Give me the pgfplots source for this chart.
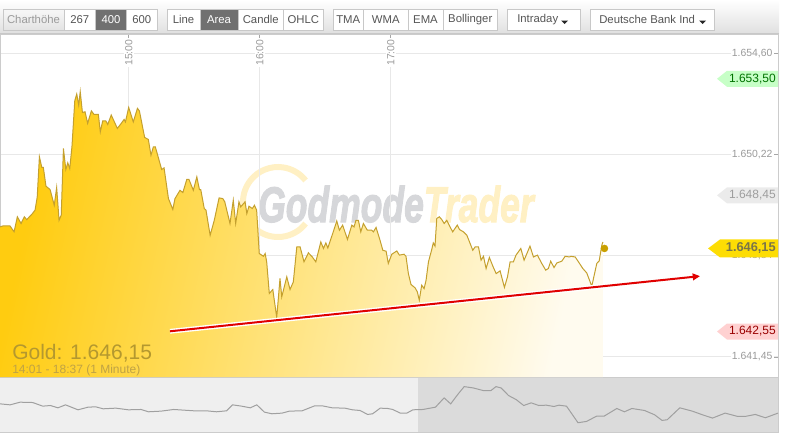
\documentclass[border=0pt]{standalone}
\usepackage{pgfplots}
\pgfplotsset{compat=1.18}
\usepackage{pgfplotstable}
\usepackage{fontspec}
\setmainfont{Liberation Sans}
\newfontfamily\wmfont[FakeBold=2.5]{Liberation Sans Bold Italic}
\usetikzlibrary{arrows.meta}

\definecolor{cBorder}{HTML}{CCCCCC}
\definecolor{cGrid}{HTML}{E8E8E8}
\definecolor{cTick}{HTML}{9A9A9A}
\definecolor{cLine}{HTML}{C4A02E}
\definecolor{cDot}{HTML}{C9A000}
\definecolor{cRed}{HTML}{E00000}
\definecolor{cBtnBorder}{HTML}{C8C8C8}
\definecolor{cBtnText}{HTML}{555555}
\definecolor{cBtnAct}{HTML}{707070}
\definecolor{cGold}{HTML}{B4982F}
\definecolor{cGoldS}{HTML}{BFA245}
\definecolor{cNavL}{HTML}{EFEFEF}
\definecolor{cNavR}{HTML}{DBDBDB}
\definecolor{cNavLine}{HTML}{A0A0A0}
\definecolor{cFillL}{HTML}{FFCC10}
\definecolor{cFillM}{HTML}{FFDF72}
\definecolor{cFillR}{HTML}{FFFBEF}
\definecolor{cWmGray}{HTML}{D6D7DA}
\definecolor{cWmYel}{HTML}{FFF0C4}

\newcommand\btnfont{\fontsize{8.5}{10}\selectfont}
\newcommand\btn[5]{%
  \draw[draw=cBtnBorder,fill=#3] (#1,9) rectangle (#2,30.5);
  \node[text=#4,font=\btnfont,inner sep=0pt] at ({(#1+#2)/2},19.8) {#5};}

% gold, 1 minute, 14:01 - 18:37 ; x = minutes after 14:00
\pgfplotstableread{
t p
1.0 1647.08
2.6 1647.13
5.6 1647.13
7.5 1646.87
9.0 1647.52
10.7 1647.23
12.2 1647.52
13.3 1647.40
15.9 1647.66
17.1 1647.81
18.1 1648.38
19.1 1650.12
20.2 1649.66
20.9 1649.66
22.1 1648.85
24.0 1648.70
25.9 1648.02
27.0 1648.79
28.1 1647.37
29.1 1647.59
30.1 1650.48
31.2 1649.57
32.1 1649.86
33.0 1649.61
34.0 1650.55
35.3 1652.55
36.2 1652.84
37.1 1652.36
37.8 1652.94
38.8 1652.04
40.0 1652.07
41.2 1651.57
42.9 1652.11
44.1 1651.96
46.1 1651.96
47.0 1651.20
48.1 1651.68
49.5 1651.68
50.4 1651.52
52.0 1651.93
54.8 1651.35
56.6 1651.57
57.9 1651.74
58.5 1651.63
60.0 1652.26
62.1 1651.63
64.0 1652.22
64.9 1652.11
67.3 1650.96
69.0 1650.87
70.2 1650.19
71.3 1650.55
72.2 1650.55
75.1 1649.57
76.2 1649.64
78.2 1648.31
80.2 1647.84
81.2 1648.31
83.5 1648.67
84.8 1648.57
86.6 1649.14
87.6 1649.14
89.6 1648.67
91.2 1649.25
92.4 1648.70
93.0 1648.70
94.6 1647.88
95.4 1647.81
97.3 1646.72
99.2 1647.37
101.4 1648.34
103.1 1648.31
104.0 1648.17
106.4 1647.23
107.9 1648.24
109.0 1647.23
110.5 1648.17
111.3 1647.95
113.3 1648.17
114.1 1647.66
115.1 1647.98
116.6 1647.88
117.6 1648.02
118.6 1647.81
119.8 1645.93
121.7 1645.81
122.5 1645.93
123.2 1645.57
124.4 1644.20
126.0 1644.37
127.8 1643.16
129.3 1644.85
130.1 1644.05
132.4 1644.92
133.9 1644.37
135.4 1644.70
137.0 1646.22
138.5 1646.22
140.3 1645.57
142.3 1645.96
144.1 1645.78
145.7 1645.57
148.0 1646.43
149.2 1646.15
150.3 1646.39
151.2 1646.17
153.7 1646.87
155.3 1647.34
156.5 1646.94
158.0 1647.16
160.2 1646.54
162.2 1647.16
163.2 1647.08
164.1 1647.37
165.2 1647.37
166.3 1646.87
167.5 1647.23
169.3 1646.94
171.3 1646.94
172.1 1646.87
173.3 1647.06
175.1 1646.51
176.4 1646.07
177.9 1646.03
178.9 1645.50
180.5 1645.90
182.8 1646.04
184.0 1645.86
186.1 1645.90
187.0 1645.81
188.1 1645.06
189.3 1644.59
191.2 1644.44
192.2 1644.27
193.1 1643.91
194.2 1644.56
195.3 1644.41
196.2 1644.77
197.3 1645.57
198.8 1646.10
199.5 1646.39
200.3 1646.25
201.1 1647.45
202.3 1647.52
203.4 1647.40
204.5 1647.23
205.7 1647.37
207.2 1647.08
208.4 1646.87
210.5 1647.16
211.5 1646.97
213.3 1646.87
214.9 1646.72
216.4 1646.36
217.6 1646.07
218.7 1646.22
220.2 1646.22
221.4 1645.64
222.5 1645.81
223.7 1645.28
225.2 1645.76
226.8 1645.38
228.3 1645.06
230.1 1645.18
232.1 1644.46
233.5 1644.92
234.7 1645.57
236.2 1645.57
237.4 1645.86
239.6 1646.15
241.1 1645.64
243.8 1646.25
245.4 1645.78
247.2 1645.86
249.2 1645.50
251.0 1645.21
252.2 1645.28
253.3 1645.60
254.8 1645.32
256.1 1645.52
258.4 1645.60
259.9 1645.81
261.9 1645.78
262.5 1645.81
264.5 1645.78
266.0 1645.57
268.0 1645.28
269.8 1645.09
272.1 1644.51
274.4 1645.50
275.5 1645.61
276.7 1646.29
277.2 1646.43
}\gold

% navigator strip (longer history, arbitrary units)
\pgfplotstableread{
x v
0 100
10.1 97
20.1 105
32.7 104
42.8 93
50.4 95
57.9 88
65.5 97
78 82
88.1 90
95.7 91
103.2 85
115.8 87
128.4 82
141 83
148.5 76
161.1 78
173.7 83
183.8 81
193.9 79
206.4 79
216.5 76
226.6 79
232.6 97
241.7 93
250.3 88
256.8 97
264.4 75
271.9 70
282 72
289.5 78
302.1 79
314.7 94
322.3 94
332.3 88
344.9 87
352.5 82
360 80
367.6 68
372.6 70
380.2 87
387.7 86
392.7 83
400.3 72
406.8 72
412.9 82
423 83
435.5 90
444.1 118
450.7 100
458.2 130
464.2 152
473.3 148
483.4 140
490.9 140
496 152
501 148
508.6 125
516.1 113
523.7 95
531.2 103
538.8 95
546.3 96
553.9 92
558.9 96
566.5 93
578 43
586.6 47
596.7 63
604.2 63
616.8 86
624.4 76
631.9 86
644.5 80
654.6 67
662.1 50
667.2 52
679.8 88
692.3 78
702.4 67
712.5 57
725.1 72
737.7 62
745.2 62
755.3 68
765.4 58
778 72
}\nav

\begin{document}
\begin{tikzpicture}
\useasboundingbox (0,0) rectangle (592.5pt,-327pt);

% toolbar and watermark, in pixel units
\begin{scope}[x=0.75pt,y=-0.75pt]
  \shade[top color=white, bottom color=black!12] (0,0) rectangle (779,33);
  \draw[cBtnBorder] (0,33) -- (779,33);
  \draw[draw=cBtnBorder, top color=black!3, bottom color=black!11] (3,9) rectangle (64,30.5);
  \node[text=cTick,font=\btnfont,inner sep=0pt] at (33.5,19.8) {Charthöhe};
  \btn{64}{95.5}{white}{cBtnText}{267}
  \btn{95.5}{126.5}{cBtnAct}{white}{400}
  \btn{126.5}{157}{white}{cBtnText}{600}
  \btn{167}{200}{white}{cBtnText}{Line}
  \btn{200}{238}{cBtnAct}{white}{Area}
  \btn{238}{283.5}{white}{cBtnText}{Candle}
  \btn{283.5}{323}{white}{cBtnText}{OHLC}
  \btn{333}{363.5}{white}{cBtnText}{TMA}
  \btn{363.5}{408}{white}{cBtnText}{WMA}
  \btn{408}{443}{white}{cBtnText}{EMA}
  \btn{443}{497.5}{white}{cBtnText}{Bollinger}
  \draw[draw=cBtnBorder,fill=white] (507,9) rectangle (580,30.5);
  \node[text=cBtnText,font=\btnfont,inner sep=0pt,anchor=west] at (517,19.3) {Intraday};
  \fill[black!85] (561,20.5) -- (568,20.5) -- (564.5,24) -- cycle;
  \draw[draw=cBtnBorder,fill=white] (590,9) rectangle (714,30.5);
  \node[text=cBtnText,font=\btnfont,inner sep=0pt,anchor=west] at (599,19.3) {Deutsche Bank Ind};
  \fill[black!85] (699,20.5) -- (706,20.5) -- (702.5,24) -- cycle;

  % watermark
  \draw[color=cWmYel, line width=4.5pt] (278,202) ++(38:35) arc[start angle=38, end angle=322, radius=35];
  \node[anchor=base west, inner sep=0pt, xscale=0.71,
        font=\fontsize{37.5}{40}\selectfont\wmfont] at (258,222)
        {\textcolor{cWmGray}{Godmode}\textcolor{cWmYel}{Trader}};
\end{scope}

\begin{axis}[
  at={(0pt,-25.5pt)}, anchor=north west,
  scale only axis, width=583.5pt, height=257.25pt,
  xmin=1.05, xmax=357.4, ymin=1640.58, ymax=1655.44,
  axis line style={draw=cBorder},
  xtick={60,120,180}, xticklabels={15:00,16:00,17:00},
  ytick={1641.45,1645.835,1650.22,1654.60},
  yticklabels={{1.641,45},{1.645,84},{1.650,22},{1.654,60}},
  xtick pos=right, xticklabel pos=right,
  ytick pos=right, yticklabel pos=right,
  tick align=inside, major tick length=3.75pt,
  tick style={draw=black!35, line width=0.6pt},
  grid=major, major grid style={draw=cGrid, line width=0.75pt},
  tick label style={font=\fontsize{7.8}{9}\selectfont, text=cTick},
  xticklabel style={rotate=90, anchor=east, xshift=-3pt, fill=white, inner sep=1pt},
  yticklabel style={anchor=east, xshift=-3pt, fill=white, inner sep=1pt},
]
\addplot[draw=none, left color=cFillL, middle color=cFillM,
         right color=cFillR, shading angle=78] table[x=t,y=p] {\gold} \closedcycle;
\addplot[cLine, line width=0.75pt] table[x=t,y=p] {\gold};
\addplot[only marks, mark=*, mark size=2.6pt, color=cDot] coordinates {(277.9,1646.15)};
\draw[white, line width=3.6pt] (axis cs:78.9,1642.56) -- (axis cs:317,1644.90);
\draw[cRed, line width=1.5pt, -{Triangle[length=5.5pt,width=5pt]}]
  (axis cs:78.9,1642.56) -- (axis cs:321.7,1644.95);
\coordinate (tgA) at (axis cs:357.4,1653.50);
\coordinate (tgB) at (axis cs:357.4,1648.45);
\coordinate (tgC) at (axis cs:357.4,1646.15);
\coordinate (tgD) at (axis cs:357.4,1642.55);
\end{axis}

% price tags on the right
\fill[green!22!white] (tgA) ++(0,6pt) -- ++(-38.25pt,0) -- ++(-7.5pt,-6pt) -- ++(7.5pt,-6pt) -- ++(38.25pt,0) -- cycle;
\node[anchor=east, inner sep=0pt, text=green!45!black, font=\fontsize{9}{10}\selectfont] at ([xshift=-1.5pt]tgA) {1.653,50};
\fill[black!8] (tgB) ++(0,6pt) -- ++(-38.25pt,0) -- ++(-7.5pt,-6pt) -- ++(7.5pt,-6pt) -- ++(38.25pt,0) -- cycle;
\node[anchor=east, inner sep=0pt, text=black!38, font=\fontsize{9}{10}\selectfont] at ([xshift=-1.5pt]tgB) {1.648,45};
\fill[yellow!80!orange] (tgC) ++(0,6.75pt) -- ++(-43.5pt,0) -- ++(-9pt,-6.75pt) -- ++(9pt,-6.75pt) -- ++(43.5pt,0) -- cycle;
\node[anchor=east, inner sep=0pt, text=yellow!40!black, font=\fontsize{9.6}{10}\selectfont\bfseries] at ([xshift=-1.5pt]tgC) {1.646,15};
\fill[red!18!white] (tgD) ++(0,6pt) -- ++(-38.25pt,0) -- ++(-7.5pt,-6pt) -- ++(7.5pt,-6pt) -- ++(38.25pt,0) -- cycle;
\node[anchor=east, inner sep=0pt, text=red!60!black, font=\fontsize{9}{10}\selectfont] at ([xshift=-1.5pt]tgD) {1.642,55};

\begin{scope}[x=0.75pt,y=-0.75pt]
  \node[anchor=base west, inner sep=0pt, text=cGold, font=\fontsize{15.75}{17}\selectfont] at (12,359) {Gold: 1.646,15};
  \node[anchor=base west, inner sep=0pt, text=cGoldS, font=\fontsize{9}{10}\selectfont] at (12,373) {14:01 - 18:37 (1 Minute)};
\end{scope}

% navigator
\begin{axis}[
  at={(0pt,-283.5pt)}, anchor=north west,
  scale only axis, width=583.5pt, height=40.5pt,
  xmin=0, xmax=778, ymin=15, ymax=178,
  axis line style={draw=cBorder},
  xtick=\empty, ytick=\empty,
]
\fill[cNavL] (axis cs:0,15) rectangle (axis cs:418,178);
\fill[cNavR] (axis cs:418,15) rectangle (axis cs:778,178);
\addplot[cNavLine, line width=0.75pt] table[x=x,y=v] {\nav};
\end{axis}
\end{tikzpicture}
\end{document}
